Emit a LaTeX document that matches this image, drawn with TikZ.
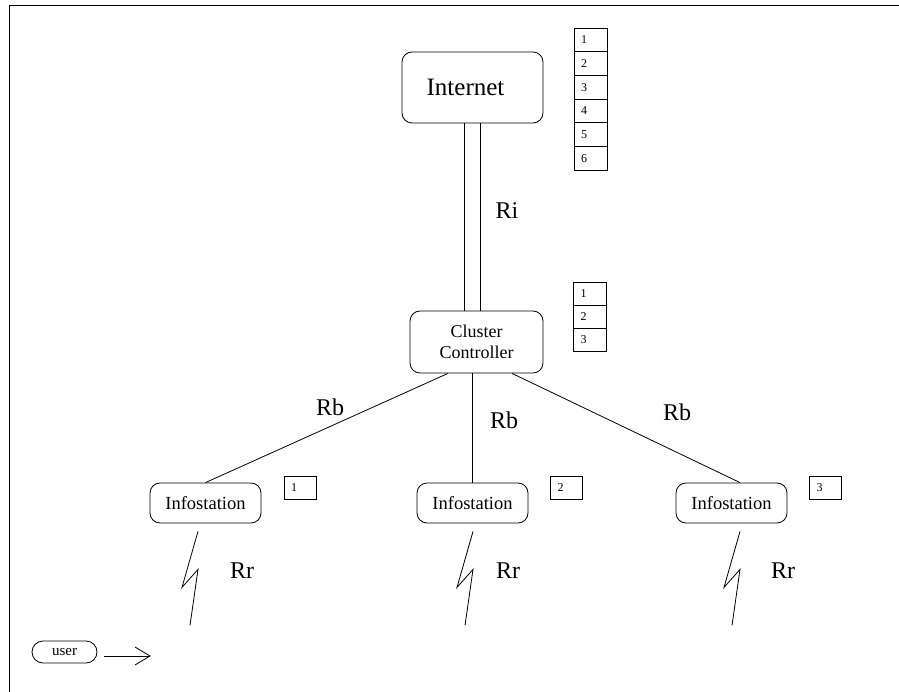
\documentclass[tikz,border=0pt]{standalone}
\usepackage{fontspec}
\setmainfont{Liberation Serif}
\usetikzlibrary{calc}
\begin{document}
\begin{tikzpicture}[x=1pt,y=-1pt,line width=0.8pt,
  box/.style={draw,rounded corners=10pt,inner sep=0pt,align=center},
  cell/.style={draw,rectangle,inner sep=0pt,minimum width=33pt,minimum height=23.6pt},
  tag/.style={draw,rectangle,inner sep=0pt,minimum width=32pt,minimum height=23pt},
  num/.style={font=\fontsize{12}{12}\selectfont,inner sep=0pt,anchor=west},
  lbl/.style={font=\fontsize{24}{24}\selectfont,inner sep=0pt}]
\useasboundingbox (0,0) rectangle (899,692);

% partial frame
\draw (899,5) -- (9,5) -- (9,692);

% main nodes
\node[box,minimum width=141pt,minimum height=71pt,font=\fontsize{25}{25}\selectfont] (inet) at (472.5,87.5) {Internet\hspace{14pt}};
\node[box,minimum width=133pt,minimum height=62pt,font=\fontsize{18}{21}\selectfont] (cl) at (476.5,342) {Cluster\\Controller};
\node[box,minimum width=111pt,minimum height=40pt,font=\fontsize{18.5}{18.5}\selectfont] (is1) at (205.5,503) {Infostation};
\node[box,minimum width=111pt,minimum height=40pt,font=\fontsize{18.5}{18.5}\selectfont] (is2) at (472.5,503) {Infostation};
\node[box,minimum width=111pt,minimum height=40pt,font=\fontsize{18.5}{18.5}\selectfont] (is3) at (731.5,503) {Infostation};
\node[draw,rounded corners=11pt,minimum width=65pt,minimum height=22pt,inner sep=0pt,font=\fontsize{15}{15}\selectfont] (user) at (64.5,652) {user};

% numbered stacks
\foreach \i in {1,...,6} {
  \node[cell] (ia\i) at (590.5,{28+23.67*(\i-0.5)}) {};
  \node[num] (ian\i) at ($(ia\i.west)+(7,0)$) {\i};
}
\foreach \i in {1,2,3} {
  \node[cell,minimum height=23pt] (cb\i) at (590,{282+23*(\i-0.5)}) {};
  \node[num] (cbn\i) at ($(cb\i.west)+(7,0)$) {\i};
}
\node[tag] (t1) at (300,487.5) {};
\node[num] (t1n) at ($(t1.west)+(7,0)$) {1};
\node[tag] (t2) at (566.5,487.5) {};
\node[num] (t2n) at ($(t2.west)+(7,0)$) {2};
\node[tag] (t3) at (825.5,487.5) {};
\node[num] (t3n) at ($(t3.west)+(7,0)$) {3};

% Internet -- cluster double link
\coordinate (ria) at (464,0);
\coordinate (rib) at (480,0);
\draw (inet.south -| ria) -- (cl.north -| ria);
\draw (inet.south -| rib) -- (cl.north -| rib);

% cluster -- infostation links
\draw ($(cl.south)+(-28.5,0)$) -- (is1.north);
\draw (cl.south -| is2.north) -- (is2.north);
\draw ($(cl.south)+(35.5,0)$) -- ($(is3.north)+(8.5,0)$);

% radio links
\foreach \n/\dx in {1/-7.5,2/0.5,3/8.5} {
  \draw ($(is\n.south)+(\dx,8)$) -- ++(-16,56) -- ++(16,-18) -- ++(-8,56);
}

% user arrow
\coordinate (uarrow) at (150,656);
\draw (104,656) -- (uarrow);
\draw (uarrow) ++(-15,-9) -- (uarrow) -- ++(-15,9);

% labels
\node[lbl] (ri) at (507,211) {Ri};
\node[lbl] (rb1) at (330,407) {Rb};
\node[lbl] (rb2) at (504,420) {Rb};
\node[lbl] (rb3) at (677,412) {Rb};
\node[lbl] (rr1) at (242,571) {Rr};
\node[lbl] (rr2) at (508,571) {Rr};
\node[lbl] (rr3) at (783,571) {Rr};
\end{tikzpicture}
\end{document}
